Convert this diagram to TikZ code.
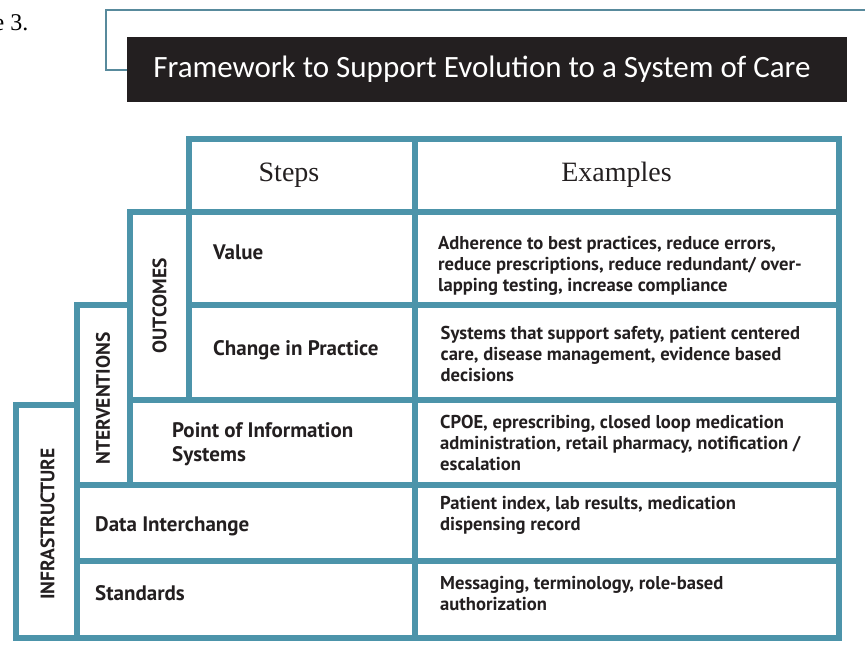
\documentclass[tikz,border=0pt]{standalone}
\usepackage{fontspec}
\setmainfont{PT Sans}
\newfontfamily\titlefont{Carlito}
\newfontfamily\headfont{Liberation Serif}

\definecolor{rulecol}{RGB}{76,148,170}
\definecolor{ink}{RGB}{35,31,32}
\definecolor{framecol}{RGB}{88,138,156}
\definecolor{titlebg}{RGB}{35,31,32}

\begin{document}
\begin{tikzpicture}[x=1pt,y=-1pt,
  cell/.style={draw=rulecol,line width=6pt,line join=miter},
  % multi-line nodes sit on the baseline of their last line
  steplabel/.style={anchor=base west,inner sep=0pt,text=ink,font=\bfseries\fontsize{21}{24}\selectfont,align=left},
  example/.style={anchor=base west,inner sep=0pt,text=ink,font=\bfseries\fontsize{18.6}{21}\selectfont,align=left},
  tierlabel/.style={rotate=90,inner sep=0pt,text=ink,font=\bfseries\fontsize{19.5}{22}\selectfont},
  headlabel/.style={anchor=base,inner sep=0pt,text=ink,font=\headfont\fontsize{28}{30}\selectfont}]
\useasboundingbox (0,0) rectangle (865,669);

% figure number, cut at the page edge
\node[anchor=base east,inner sep=0pt,font=\headfont\fontsize{24}{26}\selectfont] (fignum) at (28.5,30.5) {e 3.};

% thin frame behind the title bar
\coordinate (frameR) at (865,10);
\coordinate (frameTL) at (106,10);
\coordinate (frameBL) at (106,70);
\coordinate (frameEnd) at (127,70);
\draw[framecol,line width=1.6pt] (frameR) -- (frameTL) -- (frameBL) -- (frameEnd);

% title bar
\fill[titlebg] (127,37) rectangle (847,102);
\node[inner sep=0pt,text=white,font=\titlefont\fontsize{31}{33}\selectfont] (title) at (482,69) {Framework to Support Evolution to a System of Care};

% header row
\draw[cell] (189,138.5) rectangle (414.5,212);
\draw[cell] (414.5,138.5) rectangle (838.5,212);
% outcomes tier
\draw[cell] (130,212) rectangle (189,400);
\draw[cell] (189,212) rectangle (414.5,305);
\draw[cell] (414.5,212) rectangle (838.5,305);
\draw[cell] (189,305) rectangle (414.5,400);
\draw[cell] (414.5,305) rectangle (838.5,400);
% interventions tier
\draw[cell] (76.5,305) rectangle (130,484.5);
\draw[cell] (130,400) rectangle (414.5,484.5);
\draw[cell] (414.5,400) rectangle (838.5,484.5);
% infrastructure tier
\draw[cell] (16,404.5) rectangle (76.5,638);
\draw[cell] (76.5,484.5) rectangle (414.5,561);
\draw[cell] (414.5,484.5) rectangle (838.5,561);
\draw[cell] (76.5,561) rectangle (414.5,638);
\draw[cell] (414.5,561) rectangle (838.5,638);

% column headings
\node[headlabel] (steps) at (289,181.5) {Steps};
\node[headlabel] (examples) at (616.5,181.5) {Examples};

% tier labels
\node[tierlabel] (outcomes) at (159.5,306) {OUTCOMES};
\node[tierlabel] (interventions) at (103,398.5) {NTERVENTIONS};
\node[tierlabel] (infrastructure) at (47.5,524) {INFRASTRUCTURE};

% steps
\node[steplabel] (value) at (213,259) {Value};
\node[steplabel] (practice) at (213,355) {Change in Practice};
\node[steplabel] (poi) at (172,461.7) {Point of Information\\Systems};
\node[steplabel] (data) at (95,531) {Data Interchange};
\node[steplabel] (standards) at (95,600) {Standards};

% examples
\node[example] (exvalue) at (438,291.7) {Adherence to best practices, reduce errors,\\reduce prescriptions, reduce redundant/ over-\\lapping testing, increase compliance};
\node[example] (expractice) at (440.5,381) {Systems that support safety, patient centered\\care, disease management, evidence based\\decisions};
\node[example] (expoi) at (440,470.7) {CPOE, eprescribing, closed loop medication\\administration, retail pharmacy, notification /\\escalation};
\node[example] (exdata) at (440,530.7) {Patient index, lab results, medication\\dispensing record};
\node[example] (exstandards) at (440,610.7) {Messaging, terminology, role-based\\authorization};
\end{tikzpicture}
\end{document}
